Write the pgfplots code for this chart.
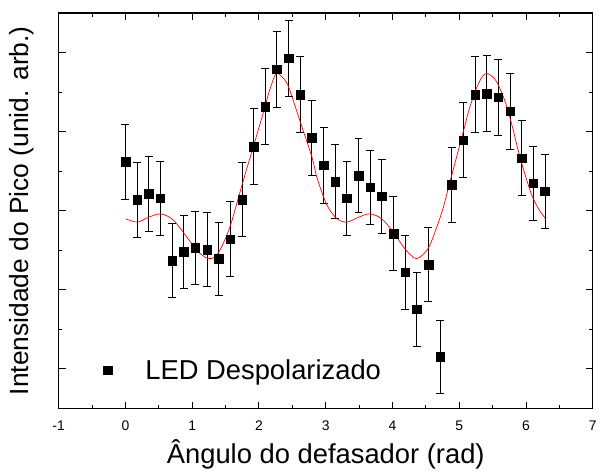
\documentclass[border=0pt]{standalone}
\usepackage{fontspec}
\setmainfont{Liberation Sans}
\usepackage{pgfplots}
\usepackage{pgfplotstable}
\pgfplotsset{compat=1.18}

\pgfplotstableread{
x y ey
0.0000 6.236 0.94
0.1745 5.273 0.94
0.3491 5.424 0.94
0.5236 5.316 0.94
0.6981 3.739 0.93
0.8727 3.958 0.93
1.0472 4.058 0.93
1.2217 4.016 0.93
1.3963 3.782 0.93
1.5708 4.285 0.94
1.7453 5.280 0.94
1.9199 6.623 0.95
2.0944 7.636 0.95
2.2689 8.574 0.96
2.4435 8.851 0.96
2.6180 7.938 0.95
2.7925 6.849 0.95
2.9671 6.145 0.95
3.1416 5.733 0.94
3.3161 5.316 0.94
3.4907 5.884 0.94
3.6652 5.592 0.94
3.8397 5.366 0.93
4.0143 4.418 0.93
4.1888 3.445 0.93
4.3633 2.507 0.93
4.5379 3.638 0.93
4.7124 1.308 0.92
4.8869 5.658 0.95
5.0615 6.781 0.95
5.2360 7.938 0.95
5.4105 7.963 0.96
5.5851 7.870 0.96
5.7596 7.511 0.96
5.9341 6.329 0.95
6.1087 5.693 0.94
6.2832 5.492 0.94
}\datatable

\pgfplotstableread{
x y
0.006 4.795
0.178 4.712
0.352 4.838
0.525 4.921
0.697 4.795
0.846 4.501
0.994 4.166
1.119 3.915
1.242 3.789
1.341 3.832
1.439 4.083
1.564 4.586
1.687 5.298
1.806 6.002
1.920 6.638
2.092 7.644
2.162 8.064
2.255 8.466
2.340 8.391
2.439 8.147
2.622 7.227
2.795 6.346
2.874 5.801
3.022 5.129
3.171 4.795
3.318 4.712
3.493 4.838
3.665 4.921
3.838 4.795
4.012 4.461
4.184 4.041
4.358 3.789
4.531 4.041
4.654 4.544
4.754 5.047
4.852 5.675
4.951 6.304
5.050 6.932
5.148 7.561
5.248 8.064
5.347 8.398
5.421 8.466
5.519 8.358
5.593 8.147
5.693 7.729
5.792 7.141
5.890 6.472
5.990 5.884
6.089 5.381
6.187 5.047
6.286 4.813
}\fittable

\begin{document}
\begin{tikzpicture}
\begin{axis}[
  scale only axis,
  width=537pt, height=397.7pt,
  xmin=-1, xmax=7, ymin=0, ymax=10,
  xtick={-1,0,1,2,3,4,5,6,7},
  minor xtick={-0.5,0.5,1.5,2.5,3.5,4.5,5.5,6.5},
  ytick={1,3,5,7,9},
  minor ytick={2,4,6,8},
  yticklabels={},
  tick align=inside,
  xtick pos=both, ytick pos=both,
  major tick length=7pt,
  minor tick length=3.7pt,
  every tick/.style={black, line width=1pt},
  axis line style={line width=1.3pt},
  /pgf/number format/assume math mode=true,
  xticklabel style={font=\fontsize{14}{16}\selectfont, yshift=-9pt},
  xlabel={Ângulo do defasador (rad)},
  ylabel={Intensidade do Pico (unid. arb.)},
  xlabel style={font=\fontsize{27.5}{31}\selectfont, at={(axis description cs:0.5,0)}, anchor=base, yshift=-55.3pt},
  ylabel style={font=\fontsize{26.5}{30}\selectfont, at={(axis description cs:-0.040,0.5)}, anchor=south},
  legend style={at={(axis cs:-0.338,0.97)}, anchor=west, draw=none, fill=none,
    font=\fontsize{27.5}{31}\selectfont, inner sep=0pt, column sep=0pt,
    nodes={inner sep=0pt}},
  legend cell align=left,
]
\addplot[black, mark=square*, mark size=4.3pt, only marks,
  legend image code/.code={\path[draw=none, fill=none] (-4.5pt,0pt) -- (38pt,0pt);
    \draw[black, mark=square*, mark size=4.3pt] plot coordinates {(0pt,0pt)};},
  error bars/.cd, y dir=both, y explicit,
  error bar style={line width=0.9pt, black},
  error mark options={rotate=90, mark size=4pt, line width=0.9pt, black}]
  table[x=x, y=y, y error=ey] {\datatable};
\addlegendentry{LED Despolarizado}
\addplot[red, line width=0.7pt, smooth, no marks, forget plot] table[x=x, y=y] {\fittable};
\end{axis}
\path (current axis.south west) -- ++(-59pt,-60.3pt);
\path (current axis.north east) -- ++(4.5pt,13pt);
\end{tikzpicture}
\end{document}
